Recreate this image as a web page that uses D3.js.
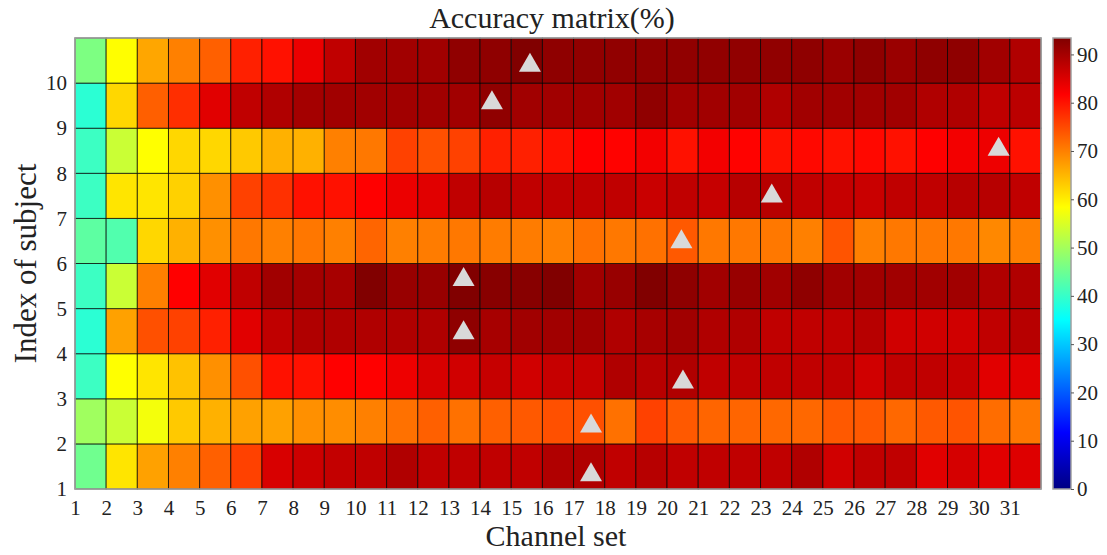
<!DOCTYPE html>
<html>
<head>
<meta charset="utf-8">
<script src="https://cdn.jsdelivr.net/npm/d3@7"></script>
<style>
  body { margin: 0; background: #fff; }
  text { font-family: "Liberation Serif", "Times New Roman", serif; fill: #222; }
</style>
</head>
<body>
<div id="chart"></div>
<script>
// channel sets (columns) and subjects (rows)
var channels = [1, 2, 3, 4, 5, 6, 7, 8, 9, 10, 11, 12, 13, 14, 15, 16, 17, 18, 19, 20, 21, 22, 23, 24, 25, 26, 27, 28, 29, 30, 31];
var subjects = [1, 2, 3, 4, 5, 6, 7, 8, 9, 10];

// accuracy (%) per subject, one value per channel set
var subj1  = [45.3, 60.8, 67.0, 70.0, 72.9, 75.8, 85.3, 86.4, 87.2, 87.5, 89.0, 87.5, 87.5, 87.5, 87.5, 89.0, 89.0, 87.5, 88.3, 87.5, 87.5, 87.5, 87.5, 89.0, 86.0, 87.5, 87.5, 84.5, 85.6, 84.5, 84.8];
var subj2  = [49.7, 53.5, 57.4, 63.3, 65.5, 67.0, 67.0, 68.5, 68.8, 70.0, 71.4, 72.9, 71.4, 72.9, 73.6, 74.4, 74.4, 71.4, 75.8, 73.6, 72.5, 72.5, 72.2, 72.2, 73.6, 73.6, 72.2, 73.6, 74.0, 71.7, 70.7];
var subj3  = [40.5, 58.4, 60.8, 64.0, 68.5, 74.4, 80.2, 80.2, 81.7, 81.7, 83.3, 85.3, 86.0, 87.0, 86.0, 87.0, 87.0, 89.0, 88.3, 89.0, 87.5, 87.5, 87.5, 87.5, 87.5, 86.0, 87.5, 87.5, 87.0, 84.5, 84.5];
var subj4  = [39.0, 67.0, 74.4, 75.8, 78.8, 84.5, 87.5, 89.0, 89.0, 89.0, 89.0, 89.0, 92.0, 89.8, 90.4, 90.4, 90.4, 89.0, 89.8, 90.4, 89.0, 89.0, 87.5, 87.5, 87.5, 88.3, 86.0, 86.0, 86.0, 87.5, 88.3];
var subj5  = [40.5, 53.5, 70.0, 81.7, 84.5, 87.5, 90.4, 90.1, 89.8, 93.3, 91.2, 91.2, 93.3, 92.7, 92.7, 93.3, 90.4, 91.2, 93.3, 92.0, 90.4, 91.2, 90.4, 92.0, 90.4, 90.4, 90.4, 90.4, 90.4, 89.0, 89.0];
var subj6  = [43.5, 42.4, 62.0, 65.5, 68.5, 70.7, 70.0, 70.8, 70.0, 72.5, 70.0, 70.4, 70.7, 70.4, 70.4, 70.0, 71.4, 70.7, 71.4, 73.6, 70.7, 70.7, 70.7, 70.0, 74.0, 70.0, 70.7, 70.7, 70.7, 69.3, 70.0];
var subj7  = [40.5, 60.8, 60.8, 62.6, 68.5, 75.8, 77.3, 80.2, 80.2, 81.7, 83.5, 84.5, 87.5, 88.3, 87.5, 87.5, 87.5, 87.5, 86.7, 87.5, 87.0, 88.3, 88.3, 87.5, 87.0, 86.7, 87.5, 87.5, 88.3, 88.3, 87.5];
var subj8  = [40.5, 53.5, 58.4, 62.0, 62.0, 63.3, 65.5, 65.5, 70.0, 70.7, 75.8, 74.4, 75.8, 78.8, 78.8, 80.2, 81.7, 81.5, 82.8, 80.2, 82.8, 81.5, 80.2, 81.0, 80.2, 81.0, 80.2, 81.7, 82.8, 83.3, 80.2];
var subj9  = [39.0, 62.0, 73.0, 77.5, 84.5, 87.5, 89.0, 90.1, 90.4, 90.4, 90.4, 90.4, 90.4, 91.9, 90.4, 90.4, 90.4, 90.4, 91.9, 90.4, 90.4, 90.4, 89.0, 90.4, 90.4, 90.4, 90.4, 89.0, 89.0, 87.5, 88.0];
var subj10 = [46.5, 58.5, 66.5, 70.0, 72.9, 78.8, 80.2, 83.5, 87.5, 90.4, 90.4, 90.4, 91.9, 92.0, 93.3, 92.0, 91.8, 91.8, 91.8, 91.8, 91.8, 91.8, 91.8, 92.0, 91.0, 92.0, 91.0, 92.0, 92.0, 90.4, 89.0];
var accuracy = [subj1, subj2, subj3, subj4, subj5, subj6, subj7, subj8, subj9, subj10];

// grey triangle markers (position in channel / subject units)
var markChannel = [17.56, 17.56, 20.51, 13.47, 13.47, 20.46, 23.36, 30.64, 14.38, 15.60];
var markSubject = [1.37, 2.45, 3.43, 4.52, 5.70, 6.54, 7.55, 8.59, 9.62, 10.45];

// colour bar
var cbarTicks = [0, 10, 20, 30, 40, 50, 60, 70, 80, 90];
var cmin = 0, cmax = 93.4;

var svgWidth = 1107;
var svgHeight = 555;
var plot = { left: 75, right: 1041, top: 38, bottom: 489 };
var cbar = { left: 1053, right: 1071 };
var serif = "'Liberation Serif', 'Times New Roman', serif";

var svg = d3.select("#chart")
  .append("svg")
  .attr("width", svgWidth)
  .attr("height", svgHeight);

var x = d3.scaleLinear().domain([1, channels.length + 1]).range([plot.left, plot.right]);
var y = d3.scaleLinear().domain([1, subjects.length + 1]).range([plot.bottom, plot.top]);

// jet colormap
var jetStops = [0, 1 / 8, 3 / 8, 5 / 8, 7 / 8, 1];
var jetColors = ["#000083", "#0000ff", "#00ffff", "#ffff00", "#ff0000", "#800000"];
var color = d3.scaleLinear()
  .domain(jetStops.map(t => cmin + t * (cmax - cmin)))
  .range(jetColors)
  .interpolate(d3.interpolateRgb)
  .clamp(true);

// cells
var cells = [];
accuracy.forEach(function(row, i) {
  row.forEach(function(v, j) {
    cells.push({ subject: subjects[i], channel: channels[j], value: v });
  });
});

svg.append("g")
  .selectAll("rect")
  .data(cells)
  .enter()
  .append("rect")
  .attr("x", d => x(d.channel))
  .attr("y", d => y(d.subject + 1))
  .attr("width", d => x(d.channel + 1) - x(d.channel))
  .attr("height", d => y(d.subject) - y(d.subject + 1))
  .attr("fill", d => color(d.value))
  .attr("stroke", "#000")
  .attr("stroke-opacity", 0.7)
  .attr("stroke-width", 1);

// frame
svg.append("rect")
  .attr("x", plot.left)
  .attr("y", plot.top)
  .attr("width", plot.right - plot.left)
  .attr("height", plot.bottom - plot.top)
  .attr("fill", "none")
  .attr("stroke", "#a0a0a0")
  .attr("stroke-width", 1.5);

// triangles
var marks = markChannel.map((c, i) => ({ c: c, s: markSubject[i] }));
svg.append("g")
  .selectAll("path")
  .data(marks)
  .enter()
  .append("path")
  .attr("transform", d => `translate(${x(d.c)}, ${y(d.s)})`)
  .attr("d", "M0,-10L11,9L-11,9Z")
  .attr("fill", "#d9d9d9");

// axes
var xAxis = svg.append("g")
  .attr("transform", `translate(0, ${plot.bottom})`)
  .call(d3.axisBottom(x).tickValues(channels).tickSize(0).tickPadding(11));
xAxis.attr("font-family", serif).attr("font-size", 21);
xAxis.select(".domain").remove();
xAxis.selectAll("text").style("font-family", serif).style("font-size", "21px").attr("fill", "#222");

var yAxis = svg.append("g")
  .attr("transform", `translate(${plot.left}, 0)`)
  .call(d3.axisLeft(y).tickValues(subjects).tickSize(0).tickPadding(8));
yAxis.attr("font-family", serif).attr("font-size", 21);
yAxis.select(".domain").remove();
yAxis.selectAll("text").style("font-family", serif).style("font-size", "21px").attr("fill", "#222");

// colour bar
var cy = d3.scaleLinear().domain([cmin, cmax]).range([plot.bottom, plot.top]);
var grad = svg.append("defs").append("linearGradient")
  .attr("id", "jet")
  .attr("x1", 0).attr("y1", 1).attr("x2", 0).attr("y2", 0);
grad.selectAll("stop")
  .data(jetStops)
  .enter()
  .append("stop")
  .attr("offset", d => d)
  .attr("stop-color", (d, i) => jetColors[i]);

svg.append("rect")
  .attr("x", cbar.left)
  .attr("y", cy(cmax))
  .attr("width", cbar.right - cbar.left)
  .attr("height", cy(cmin) - cy(cmax))
  .attr("fill", "url(#jet)")
  .attr("stroke", "#a0a0a0")
  .attr("stroke-width", 1.5);

var cAxis = svg.append("g")
  .attr("transform", `translate(${cbar.right}, 0)`)
  .call(d3.axisRight(cy).tickValues(cbarTicks).tickSize(3).tickPadding(3));
cAxis.attr("font-family", serif).attr("font-size", 21);
cAxis.select(".domain").remove();
cAxis.selectAll("line").attr("stroke", "#555");
cAxis.selectAll("text").style("font-family", serif).style("font-size", "21px").attr("fill", "#222");

// titles
svg.append("text")
  .attr("x", 552)
  .attr("y", 28)
  .attr("text-anchor", "middle")
  .style("font-size", "30px")
  .text("Accuracy matrix(%)");

svg.append("text")
  .attr("x", 556)
  .attr("y", 546)
  .attr("text-anchor", "middle")
  .style("font-size", "30px")
  .text("Channel set");

svg.append("text")
  .attr("transform", `translate(36, ${(plot.top + plot.bottom) / 2}) rotate(-90)`)
  .attr("text-anchor", "middle")
  .style("font-size", "31px")
  .text("Index of subject");
</script>
</body>
</html>
